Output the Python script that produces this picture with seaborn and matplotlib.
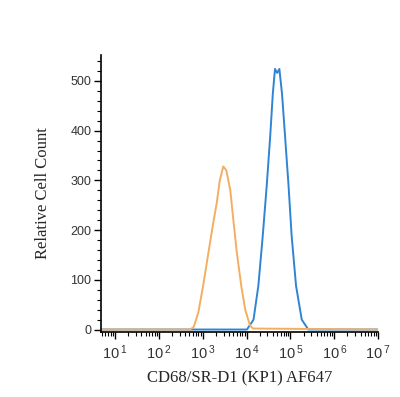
import numpy as np
import pandas as pd
import seaborn as sns
import matplotlib.pyplot as plt
from matplotlib.ticker import FixedLocator, LogLocator, NullFormatter, FuncFormatter, MultipleLocator

# values (x as log10 of intensity, y as cell count)
isotype_log = [0.68, 2.70, 2.79, 2.90, 3.01, 3.13, 3.24, 3.32, 3.39, 3.47, 3.54,
               3.63, 3.70, 3.78, 3.88, 3.97, 4.08, 4.15, 7.0]
isotype_count = [0, 0, 4, 34, 88, 154, 214, 254, 300, 328, 320,
                 280, 220, 154, 88, 40, 8, 2, 0]

cd68_log = [0.68, 3.90, 4.01, 4.16, 4.27, 4.37, 4.46, 4.54, 4.60, 4.65, 4.70,
            4.75, 4.81, 4.88, 4.96, 5.03, 5.13, 5.26, 5.41, 7.0]
cd68_count = [0, 0, 0, 20, 88, 188, 288, 388, 474, 524, 516,
              524, 474, 388, 288, 188, 88, 20, 0, 0]

decades = [1, 2, 3, 4, 5, 6, 7]

df = pd.concat([
    pd.DataFrame({'x': np.power(10.0, cd68_log), 'count': cd68_count, 'sample': 'CD68'}),
    pd.DataFrame({'x': np.power(10.0, isotype_log), 'count': isotype_count, 'sample': 'Isotype'}),
])

sns.set_style("ticks")
plt.rcParams['font.family'] = ['Liberation Sans', 'DejaVu Sans']

fig = plt.figure(figsize=(4, 3.97), dpi=100)
ax = fig.add_axes([0.2525, 0.1637, 0.6925, 0.6977])

sns.lineplot(data=df, x='x', y='count', hue='sample', sort=False,
             palette={'CD68': '#2F84D3', 'Isotype': '#F3AE62'},
             linewidth=1.4, legend=False, ax=ax)

ax.set_xscale('log')
ax.set_xlim(10 ** 0.68, 10 ** 7)
ax.set_ylim(-5, 552)

ax.xaxis.set_major_locator(FixedLocator([10.0 ** d for d in decades]))
ax.xaxis.set_major_formatter(FuncFormatter(lambda v, p: r'$\mathregular{10^{\,%d}}$' % round(np.log10(v))))
ax.xaxis.set_minor_locator(LogLocator(base=10, subs=np.arange(2, 10), numticks=20))
ax.xaxis.set_minor_formatter(NullFormatter())

ax.yaxis.set_major_locator(FixedLocator([0, 100, 200, 300, 400, 500]))
ax.yaxis.set_minor_locator(MultipleLocator(20))

ax.tick_params(which='major', direction='out', length=5, width=1, color='black',
               labelsize=9, labelcolor='#333333', pad=2)
ax.tick_params(axis='x', which='major', labelsize=10.5, pad=3)
ax.tick_params(which='minor', direction='out', length=3, width=0.8, color='black')

for side in ['top', 'right']:
    ax.spines[side].set_visible(False)
for side in ['left', 'bottom']:
    ax.spines[side].set_color('black')
    ax.spines[side].set_linewidth(1.2)

ax.set_xlabel('CD68/SR-D1 (KP1) AF647', family='Liberation Serif', fontsize=12, labelpad=6)
ax.set_ylabel('Relative Cell Count', family='Liberation Serif', fontsize=12, labelpad=14)

fig.savefig('out.png', dpi=100)
